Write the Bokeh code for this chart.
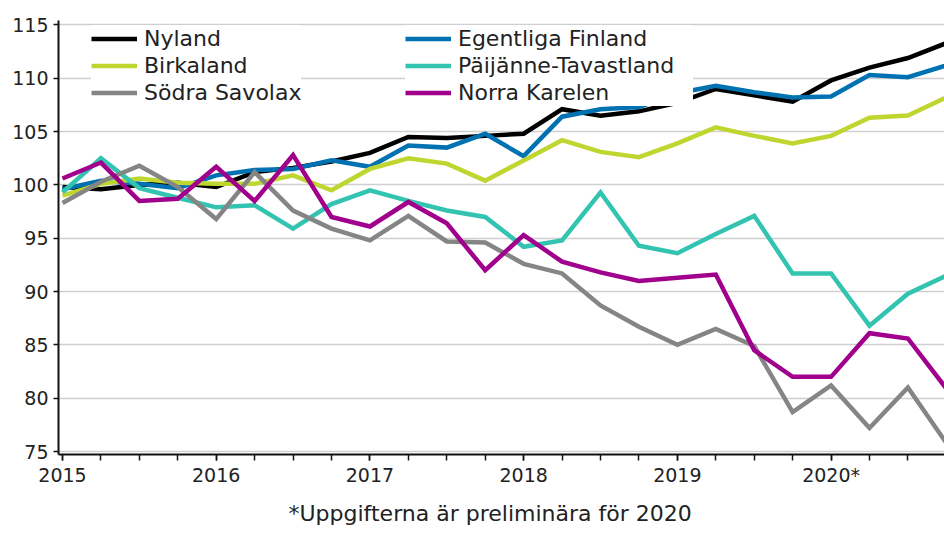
from bokeh.plotting import figure
from bokeh.models import FixedTicker, Legend, LegendItem, Title, Range1d
from bokeh.embed import file_html
from bokeh.resources import INLINE

years = [2015, 2016, 2017, 2018, 2019, 2020]
year_labels = ["2015", "2016", "2017", "2018", "2019", "2020*"]
quarters = [y + q / 4 for y in years for q in range(4)]
y_ticks = [75, 80, 85, 90, 95, 100, 105, 110, 115]
footnote = "*Uppgifterna är preliminära för 2020"

nyland = [99.8, 99.6, 100.0, 100.2, 99.8, 101.2, 101.6, 102.2, 103.0, 104.5, 104.4, 104.6,
          104.8, 107.1, 106.5, 106.9, 107.7, 109.0, 108.4, 107.8, 109.8, 111.0, 111.9, 113.3]
egentliga = [99.6, 100.4, 100.1, 99.7, 100.9, 101.4, 101.5, 102.3, 101.7, 103.7, 103.5, 104.8,
             102.7, 106.4, 107.1, 107.3, 108.6, 109.3, 108.7, 108.2, 108.3, 110.3, 110.1, 111.2]
birkaland = [99.0, 100.1, 100.6, 100.2, 100.1, 100.1, 100.9, 99.5, 101.5, 102.5, 102.0, 100.4,
             102.3, 104.2, 103.1, 102.6, 103.9, 105.4, 104.6, 103.9, 104.6, 106.3, 106.5, 108.2]
paijanne = [99.3, 102.5, 99.7, 98.8, 97.9, 98.1, 95.9, 98.2, 99.5, 98.5, 97.6, 97.0,
            94.2, 94.8, 99.3, 94.3, 93.6, 95.4, 97.1, 91.7, 91.7, 86.8, 89.8, 91.5]
sodra = [98.3, 100.3, 101.8, 99.8, 96.8, 101.2, 97.6, 95.9, 94.8, 97.1, 94.7, 94.6,
         92.6, 91.7, 88.7, 86.7, 85.0, 86.5, 84.9, 78.7, 81.2, 77.2, 81.0, 75.8]
norra = [100.6, 102.1, 98.5, 98.7, 101.7, 98.5, 102.8, 97.0, 96.1, 98.4, 96.4, 92.0,
         95.3, 92.8, 91.8, 91.0, 91.3, 91.6, 84.5, 82.0, 82.0, 86.1, 85.6, 80.9]

series = [
    ("Nyland", nyland, "#000000"),
    ("Egentliga Finland", egentliga, "#0072B2"),
    ("Birkaland", birkaland, "#BED62F"),
    ("Päijänne-Tavastland", paijanne, "#33C3B1"),
    ("Södra Savolax", sodra, "#858585"),
    ("Norra Karelen", norra, "#A0008C"),
]

FONT = "DejaVu Sans"

p = figure(width=944, height=537, output_backend="svg", toolbar_location=None,
           x_range=Range1d(2014.974, 2020.738), y_range=Range1d(74.72, 115.42),
           min_border_left=58, min_border_right=0, min_border_top=20, min_border_bottom=83)
p.outline_line_color = None
p.xgrid.grid_line_color = None
p.ygrid.grid_line_color = "#cfcfcf"
p.ygrid.grid_line_width = 1.5
p.background_fill_color = "white"

renderers = {}
for name, vals, col in series:
    r = p.line(quarters, vals, line_color=col, line_width=4.5, line_join="miter")
    renderers[name] = r

p.xaxis.ticker = FixedTicker(ticks=years, minor_ticks=quarters)
p.xaxis.major_label_overrides = {y: lab for y, lab in zip(years, year_labels)}
p.yaxis.ticker = FixedTicker(ticks=y_ticks)

for ax in (p.xaxis[0], p.yaxis[0]):
    ax.axis_line_color = "#111111"
    ax.axis_line_width = 2
    ax.major_tick_line_color = "#111111"
    ax.major_tick_line_width = 1.5
    ax.major_tick_in = 0
    ax.major_label_text_font = FONT
    ax.major_label_text_font_size = "19px"
    ax.major_label_text_color = "#222222"
p.xaxis.major_tick_out = 6
p.xaxis.minor_tick_out = 6
p.xaxis.minor_tick_in = 0
p.xaxis.minor_tick_line_color = "#111111"
p.xaxis.minor_tick_line_width = 1.5
p.xaxis.major_label_standoff = 3
p.yaxis.major_tick_out = 5
p.yaxis.minor_tick_line_color = None
p.yaxis.major_label_standoff = 5

def make_legend(names, loc, label_width):
    lg = Legend(items=[LegendItem(label=n, renderers=[renderers[n]]) for n in names],
                location=loc, orientation="vertical")
    lg.background_fill_color = "white"
    lg.background_fill_alpha = 1
    lg.border_line_color = None
    lg.padding = 4
    lg.spacing = 0
    lg.margin = 0
    lg.glyph_width = 46
    lg.glyph_height = 27
    lg.label_height = 27
    lg.label_width = label_width
    lg.label_standoff = 7
    lg.label_text_font = FONT
    lg.label_text_font_size = "22px"
    lg.label_text_color = "#222222"
    return lg

p.add_layout(make_legend(["Nyland", "Birkaland", "Södra Savolax"], (33, 348), 150))
p.add_layout(make_legend(["Egentliga Finland", "Päijänne-Tavastland", "Norra Karelen"], (347, 348), 235))

p.add_layout(Title(text=footnote, align="left", offset=230, text_font=FONT,
                   text_font_size="22px", text_font_style="normal", text_color="#222222",
                   standoff=20, vertical_align="bottom"), "below")

open("out.html", "w").write(file_html(p, INLINE))
